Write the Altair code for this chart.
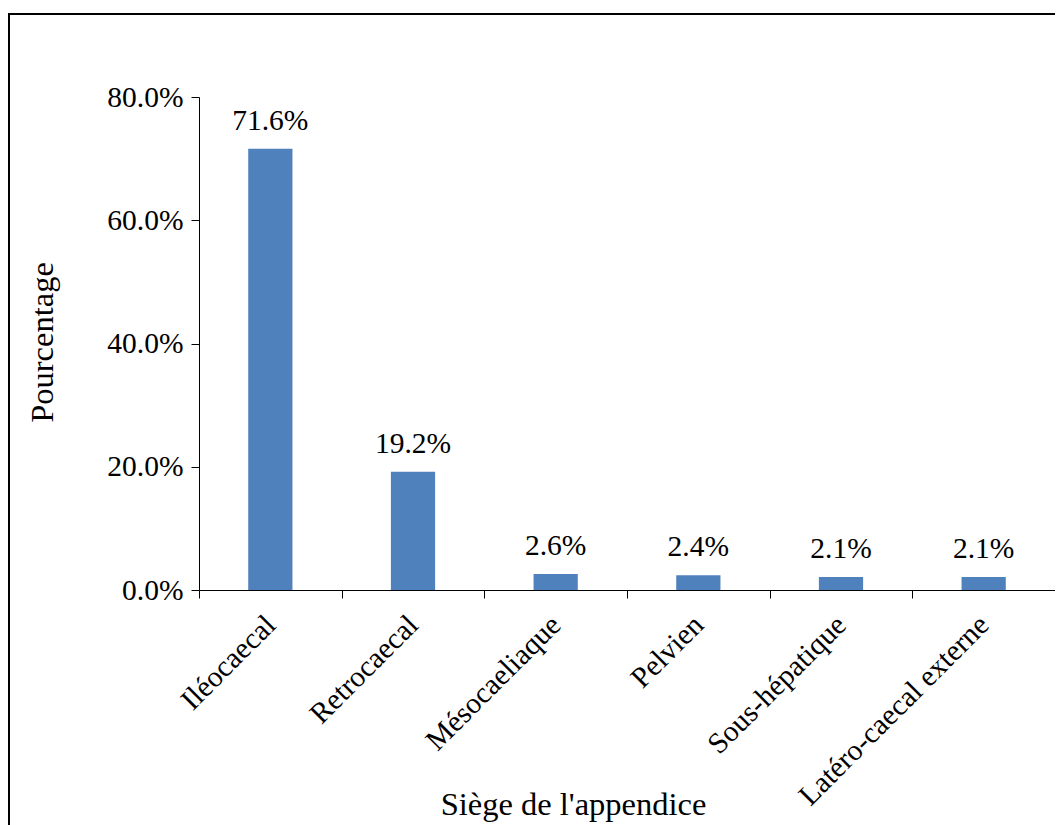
import altair as alt
import pandas as pd

categories = ["Iléocaecal", "Retrocaecal", "Mésocaeliaque", "Pelvien", "Sous-hépatique", "Latéro-caecal externe"]
values = [0.716, 0.192, 0.026, 0.024, 0.021, 0.021]

df = pd.DataFrame({"cat": categories, "val": values})

FONT = "Liberation Serif"
LBL = 29.5
TTL = 32.5

x_enc = alt.X(
    "cat:N",
    sort=categories,
    scale=alt.Scale(paddingInner=0, paddingOuter=0),
    axis=alt.Axis(
        title="Siège de l'appendice",
        grid=False,
        labelAngle=-45,
        labelAlign="right",
        labelBaseline="middle",
        labelFontSize=LBL,
        labelFont=FONT,
        labelColor="black",
        labelPadding=22,
        labelLimit=0,
        tickBand="extent",
        tickSize=8,
        tickColor="black",
        domainColor="black",
        titleFont=FONT,
        titleFontSize=TTL,
        titleFontWeight="normal",
        titleColor="black",
        titleX=374,
        titleY=224,
        titleBaseline="alphabetic",
        titleAlign="center",
        titleAnchor="start",
    ),
)

y_enc = alt.Y(
    "val:Q",
    scale=alt.Scale(domain=[0, 0.8], nice=False),
    axis=alt.Axis(
        title="Pourcentage",
        format=".1%",
        values=[0, 0.2, 0.4, 0.6, 0.8],
        grid=False,
        labelFontSize=LBL,
        labelFont=FONT,
        labelColor="black",
        labelPadding=8,
        tickSize=8,
        tickColor="black",
        domainColor="black",
        titleFont=FONT,
        titleFontSize=TTL,
        titleFontWeight="normal",
        titleColor="black",
        titleX=-147,
        titleY=245,
        titleAngle=-90,
        titleBaseline="alphabetic",
        titleAlign="center",
        titleAnchor="start",
    ),
)

base = alt.Chart(df)

bars = base.mark_bar(color="#4F81BD", width=alt.RelativeBandSize(0.31)).encode(x=x_enc, y=y_enc)

labels = base.mark_text(
    font=FONT, fontSize=LBL, color="black", baseline="alphabetic", dy=-19
).encode(x=alt.X("cat:N", sort=categories), y="val:Q", text=alt.Text("val:Q", format=".1%"))

frame = base.mark_rect(fill=None, stroke="black", strokeWidth=2, clip=False).encode(
    x=alt.value(-190), x2=alt.value(880), y=alt.value(-83), y2=alt.value(760)
)

chart = (
    alt.layer(frame, bars, labels)
    .properties(
        width=856,
        height=493,
        autosize=alt.AutoSizeParams(type="none"),
        padding={"left": 191, "top": 89, "right": 0, "bottom": 235},
        view=alt.ViewBackground(strokeWidth=0, stroke="transparent"),
    )
    .configure_view(strokeWidth=0, stroke="transparent")
    .configure_axis(grid=False)
    .configure(background="white")
)

chart.save("out.html", embed_options={"renderer": "svg", "actions": False})
